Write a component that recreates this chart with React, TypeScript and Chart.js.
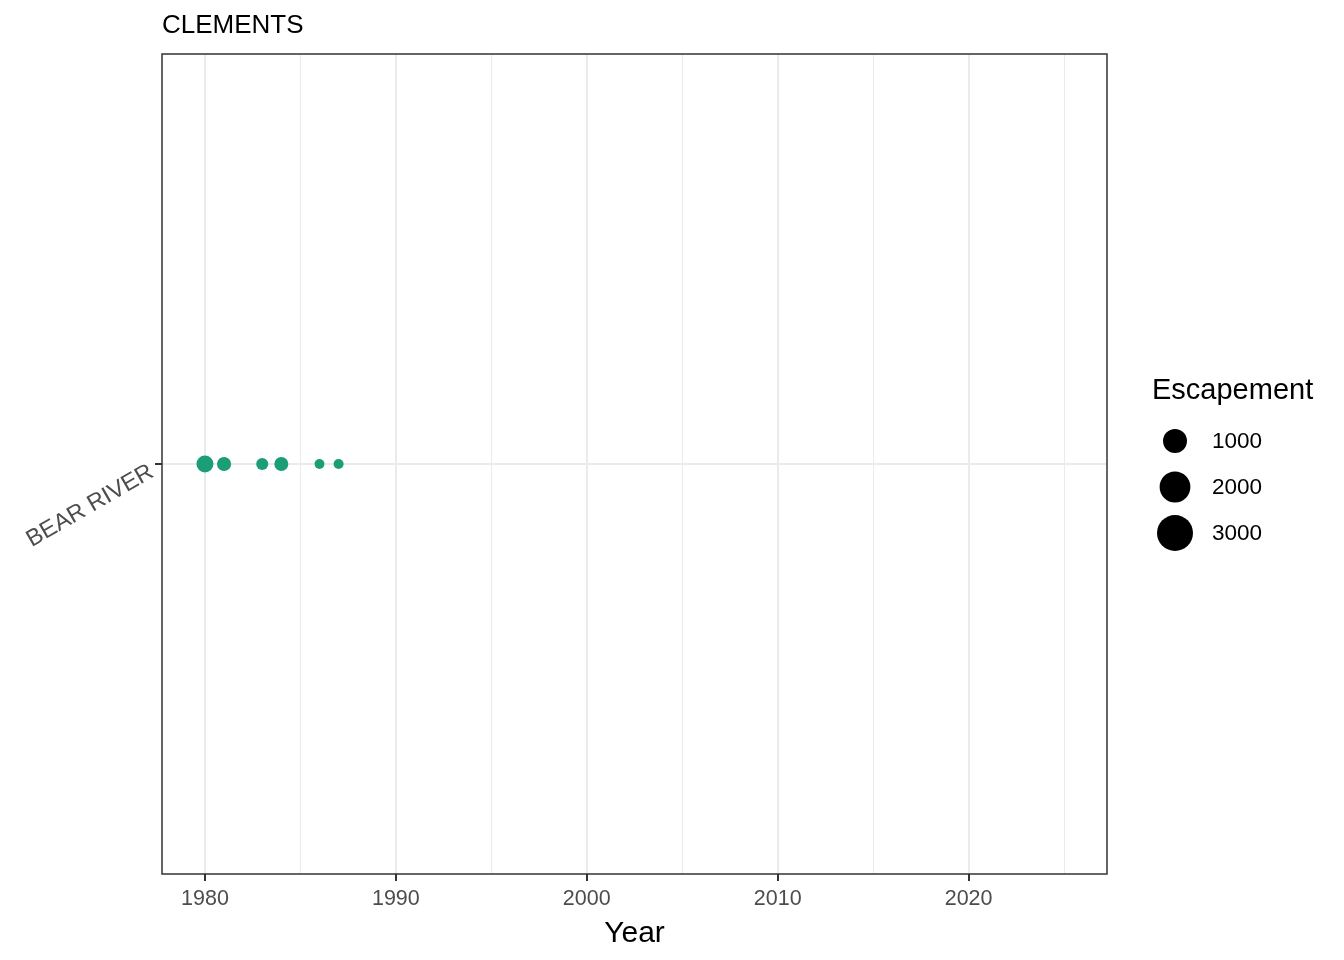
import React, { useEffect, useRef } from "react";
import { Chart, registerables } from "chart.js";

Chart.register(...registerables);

const TITLE = "CLEMENTS";
const RIVERS = ["BEAR RIVER"];
const YEARS = [1980, 1981, 1983, 1984, 1986, 1987];
const ESCAPEMENT = [330, 160, 75, 150, 20, 22];
const X_TICKS = [1980, 1985, 1990, 1995, 2000, 2005, 2010, 2015, 2020, 2025];
const LEGEND_BREAKS = [1000, 2000, 3000];
const X_MIN = 1977.75;
const X_MAX = 2027.25;

const FONT = "'Liberation Sans', Arial, Helvetica, sans-serif";
const POINT_COLOR = "#1B9E77";

function sizeOf(v: number): number {
  return 3.8 + 0.259 * Math.sqrt(v);
}

const isMajor = (v: number) => v % 10 === 0;

export default function App() {
  const ref = useRef<HTMLCanvasElement | null>(null);

  useEffect(() => {
    if (!ref.current) return;

    const overlay = {
      id: "overlay",
      afterDraw(chart: any) {
        const c = chart.ctx as CanvasRenderingContext2D;
        const a = chart.chartArea;
        const yScale = chart.scales.y;
        c.save();
        // panel border
        c.strokeStyle = "#333333";
        c.lineWidth = 1.5;
        c.strokeRect(a.left, a.top, a.right - a.left, a.bottom - a.top);
        // y category labels (rotated)
        RIVERS.forEach((name, i) => {
          const py = yScale.getPixelForValue(i);
          c.save();
          c.translate(155, py + 12);
          c.rotate((-30 * Math.PI) / 180);
          c.fillStyle = "#4D4D4D";
          c.font = `23.5px ${FONT}`;
          c.textAlign = "right";
          c.textBaseline = "alphabetic";
          c.fillText(name, 0, 0);
          c.restore();
        });
        // title
        c.fillStyle = "#000000";
        c.font = `26px ${FONT}`;
        c.textAlign = "left";
        c.textBaseline = "middle";
        c.fillText(TITLE, 162, 26);
        // legend
        c.font = `29px ${FONT}`;
        c.fillText("Escapement", 1152, 391);
        const ys = [441, 487, 533];
        LEGEND_BREAKS.forEach((b, i) => {
          c.beginPath();
          c.arc(1175, ys[i], sizeOf(b), 0, Math.PI * 2);
          c.fillStyle = "#000000";
          c.fill();
          c.font = `22.5px ${FONT}`;
          c.fillText(String(b), 1212, ys[i] + 1);
        });
        c.restore();
      },
    };

    const chart = new Chart(ref.current, {
      type: "scatter",
      data: {
        datasets: [
          {
            data: YEARS.map((x) => ({ x, y: RIVERS[0] })) as any,
            pointRadius: (ctx: any) => sizeOf(ESCAPEMENT[ctx.dataIndex]),
            pointHoverRadius: (ctx: any) => sizeOf(ESCAPEMENT[ctx.dataIndex]),
            backgroundColor: POINT_COLOR,
            borderWidth: 0,
            hoverBorderWidth: 0,
          },
        ],
      },
      options: {
        animation: false,
        responsive: false,
        devicePixelRatio: 1,
        layout: { padding: { top: 54, right: 237, left: 0, bottom: 0 } },
        plugins: {
          legend: { display: false },
          tooltip: { enabled: false },
          title: { display: false },
        },
        scales: {
          x: {
            type: "linear",
            min: X_MIN,
            max: X_MAX,
            afterBuildTicks: (s: any) => {
              s.ticks = X_TICKS.map((value) => ({ value }));
            },
            afterFit: (s: any) => {
              s.height = 86;
            },
            ticks: {
              autoSkip: false,
              maxRotation: 0,
              callback: (v: any) => (isMajor(Number(v)) ? String(v) : ""),
              color: "#4D4D4D",
              font: { family: FONT, size: 21.5 },
              padding: 5,
            },
            grid: {
              color: "#EBEBEB",
              lineWidth: (ctx: any) => (ctx.tick && isMajor(ctx.tick.value) ? 2 : 1),
              tickColor: (ctx: any) =>
                ctx.tick && isMajor(ctx.tick.value) ? "#333333" : "rgba(0,0,0,0)",
              tickWidth: 2,
              tickLength: 7,
            },
            border: { display: false },
            title: {
              display: true,
              text: "Year",
              color: "#000000",
              font: { family: FONT, size: 30 },
              padding: { top: 0, bottom: 8 },
            },
          },
          y: {
            type: "category",
            labels: RIVERS,
            offset: true,
            afterFit: (s: any) => {
              s.width = 162;
            },
            ticks: {
              display: false,
            },
            grid: {
              offset: false,
              color: "#EBEBEB",
              lineWidth: 2,
              tickColor: "#333333",
              tickWidth: 2,
              tickLength: 7,
            },
            border: { display: false },
          },
        },
      } as any,
      plugins: [overlay],
    });

    return () => chart.destroy();
  }, []);

  return (
    <div
      style={{
        position: "fixed",
        left: 0,
        top: 0,
        width: 1344,
        height: 960,
        background: "#ffffff",
      }}
    >
      <canvas ref={ref} width={1344} height={960} style={{ display: "block" }} />
    </div>
  );
}
